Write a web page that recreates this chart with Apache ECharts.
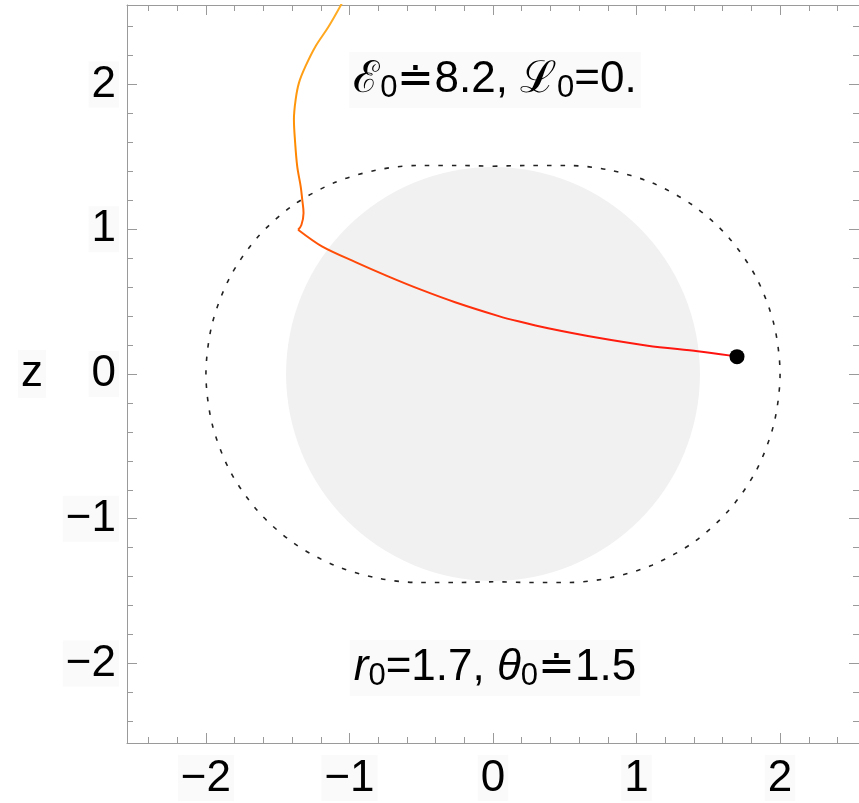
<!DOCTYPE html>
<html>
<head>
<meta charset="utf-8">
<script src="https://cdn.jsdelivr.net/npm/echarts@6/dist/echarts.min.js"></script>
<style>
html,body{margin:0;padding:0;background:#fff;}
#chart{width:859px;height:803px;}
</style>
</head>
<body>
<div id="chart"></div>
<script>
// ---- data ----
const axisMin = -2.55;
const axisMax = 2.55;
const majorTicks = [-2, -1, 0, 1, 2];
const minorTicks = [-2.4, -2.2, -1.8, -1.6, -1.4, -1.2, -0.8, -0.6, -0.4, -0.2,
                    0.2, 0.4, 0.6, 0.8, 1.2, 1.4, 1.6, 1.8, 2.2, 2.4];
// trajectory, part 1: from the black dot to the kink (x, z)
const lowerX = [1.700, 1.657, 1.426, 1.078, 0.731, 0.384, 0.176, 0.040, -0.264, -0.498,
                -0.727, -0.958, -1.192, -1.358];
const lowerZ = [0.120, 0.127, 0.157, 0.196, 0.250, 0.316, 0.364, 0.400, 0.496, 0.581,
                0.673, 0.773, 0.882, 0.997];
// trajectory, part 2: from the kink up and out of the frame
const upperX = [-1.358, -1.335, -1.320, -1.329, -1.340, -1.364, -1.380, -1.387, -1.375,
                -1.352, -1.306, -1.236, -1.144, -1.051];
const upperZ = [0.997, 1.030, 1.113, 1.205, 1.297, 1.435, 1.620, 1.758, 1.896,
                2.012, 2.127, 2.265, 2.403, 2.565];
// start point
const startPoint = [1.70, 0.12];
// horizon disk radius
const horizonRadius = 1.436;
// dotted boundary, first quadrant (x, z)
const ergoX = [0.000, 0.254, 0.525, 0.813, 1.108, 1.391, 1.639, 1.834, 1.957, 2.000];
const ergoZ = [1.436, 1.441, 1.441, 1.409, 1.321, 1.167, 0.947, 0.667, 0.345, 0.000];
// annotations
const topLabel = '{s|ℰ}{sub|0}≐8.2, {s|ℒ}{sub|0}=0.';
const bottomLabel = '{it|r}{sub|0}=1.7, {it|θ}{sub|0}≐1.5';
const yName = 'z';

// ---- build ----
const lowerData = lowerX.map((x, i) => [x, lowerZ[i]]);
const upperData = upperX.map((x, i) => [x, upperZ[i]]);
const ergoData = [];
for (let i = 0; i < ergoX.length; i++) ergoData.push([ergoX[i], ergoZ[i]]);
for (let i = ergoX.length - 2; i >= 0; i--) ergoData.push([ergoX[i], -ergoZ[i]]);
for (let i = 1; i < ergoX.length; i++) ergoData.push([-ergoX[i], -ergoZ[i]]);
for (let i = ergoX.length - 2; i >= 0; i--) ergoData.push([-ergoX[i], ergoZ[i]]);

const FONT = '"Liberation Sans", Arial, Helvetica, sans-serif';
const frameColor = '#9a9a9a';
const labelBg = '#fafafa';
const fmt = v => (v < 0 ? '\u2212' + Math.abs(v) : String(v));

function makeAxis(pos, isX, major, showLabel) {
  return {
    type: 'value', min: axisMin, max: axisMax, position: pos,
    splitLine: { show: false },
    axisLine: { show: major, onZero: false, lineStyle: { color: frameColor, width: 1 } },
    axisTick: {
      show: true, inside: true, length: major ? 10 : 6,
      customValues: major ? majorTicks : minorTicks,
      lineStyle: { color: frameColor, width: 1 }
    },
    axisLabel: {
      show: showLabel,
      customValues: majorTicks,
      formatter: fmt,
      fontSize: 44, fontFamily: FONT, color: '#000',
      backgroundColor: labelBg, padding: [2, 3, 0, 3],
      margin: isX ? 12 : 8
    }
  };
}

// colour along the path (global pixel gradient: top of frame -> start dot)
const pathGradient = new echarts.graphic.LinearGradient(0, 5, 0, 358, [
  { offset: 0, color: '#ffae26' },
  { offset: 0.4, color: '#ff8c00' },
  { offset: 0.6, color: '#ff6006' },
  { offset: 0.8, color: '#ff3c0a' },
  { offset: 1, color: '#ff1010' }
], true);

const chart = echarts.init(document.getElementById('chart'), null, { renderer: 'canvas' });
const yMain = makeAxis('left', false, true, true);
yMain.name = yName;
yMain.nameLocation = 'middle';
yMain.nameRotate = 0;
yMain.nameGap = 81;
yMain.nameTextStyle = { fontSize: 44, fontFamily: FONT, color: '#000', backgroundColor: labelBg, padding: [0, 3, 4, 3] };

chart.setOption({
  animation: false,
  backgroundColor: '#fff',
  grid: { left: 127, top: 5, right: -4, bottom: 60, containLabel: false },
  xAxis: [
    makeAxis('bottom', true, true, true),
    makeAxis('bottom', true, false, false),
    makeAxis('top', true, true, false),
    makeAxis('top', true, false, false)
  ],
  yAxis: [
    yMain,
    makeAxis('left', false, false, false),
    makeAxis('right', false, true, false),
    makeAxis('right', false, false, false)
  ],
  series: [
    {
      type: 'custom',
      xAxisIndex: 0, yAxisIndex: 0,
      silent: true, z: 1,
      data: [[0, 0, horizonRadius]],
      renderItem: function (params, api) {
        const c = api.coord([api.value(0), api.value(1)]);
        const r = api.size([api.value(2), api.value(2)]);
        return { type: 'circle', shape: { cx: c[0], cy: c[1], r: (r[0] + r[1]) / 2 }, style: { fill: '#f1f1f1' } };
      }
    },
    {
      type: 'line',
      xAxisIndex: 0, yAxisIndex: 0,
      data: ergoData, smooth: 0.3, showSymbol: false, silent: true, z: 2,
      lineStyle: { color: '#222', width: 1.6, type: [4.5, 9] }
    },
    {
      type: 'line',
      xAxisIndex: 0, yAxisIndex: 0,
      data: lowerData, smooth: 0.3, showSymbol: false, silent: true, z: 3, clip: true,
      lineStyle: { width: 2, color: pathGradient }
    },
    {
      type: 'line',
      xAxisIndex: 0, yAxisIndex: 0,
      data: upperData, smooth: 0.35, showSymbol: false, silent: true, z: 3, clip: true,
      lineStyle: { width: 2, color: pathGradient }
    },
    {
      type: 'scatter',
      xAxisIndex: 0, yAxisIndex: 0,
      data: [startPoint], symbol: 'circle', symbolSize: 15, silent: true, z: 4,
      itemStyle: { color: '#000', opacity: 1 }
    }
  ],
  graphic: [
    {
      type: 'text', x: 495, y: 80, z: 10,
      style: {
        text: topLabel, align: 'center', verticalAlign: 'middle',
        fontSize: 44, fontFamily: FONT, fill: '#000', lineHeight: 48,
        backgroundColor: labelBg, padding: [4, 4, 4, 4],
        rich: {
          s: { fontSize: 44, fontFamily: FONT, lineHeight: 48 },
          sub: { fontSize: 31, fontFamily: FONT, lineHeight: 20, verticalAlign: 'bottom' }
        }
      }
    },
    {
      type: 'text', x: 495, y: 668, z: 10,
      style: {
        text: bottomLabel, align: 'center', verticalAlign: 'middle',
        fontSize: 44, fontFamily: FONT, fill: '#000', lineHeight: 48,
        backgroundColor: labelBg, padding: [4, 4, 4, 4],
        rich: {
          it: { fontSize: 44, fontFamily: FONT, fontStyle: 'italic', lineHeight: 48 },
          sub: { fontSize: 31, fontFamily: FONT, lineHeight: 20, verticalAlign: 'bottom' }
        }
      }
    }
  ]
});
</script>
</body>
</html>
